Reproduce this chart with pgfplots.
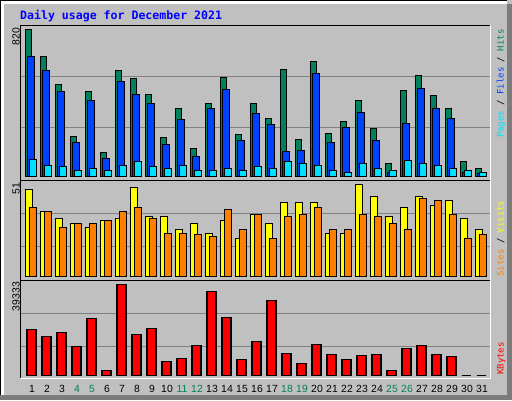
\documentclass[border=0pt]{standalone}
\usepackage{pgfplots}
\pgfplotsset{compat=1.18}
\usepackage{pgfplotstable}
\usepackage{fontspec}
\setmainfont{Liberation Sans}
\newfontfamily\mono{DejaVu Sans Mono}
\definecolor{bg}{HTML}{C0C0C0}
\definecolor{hitc}{HTML}{00805C}
\definecolor{filec}{HTML}{0040FF}
\definecolor{pagec}{HTML}{00E0FF}
\definecolor{sitec}{HTML}{FF8000}
\definecolor{visitc}{HTML}{FFFF00}
\definecolor{kbc}{HTML}{FF0000}
\definecolor{gridc}{HTML}{808080}
\definecolor{shadow}{HTML}{7C7C7C}
\pgfplotstableread{
d h f p v s k
1 820 667 93 48 38 19883
2 667 591 65 36 36 16857
3 512 473 54 32 27 18586
4 222 188 37 29 29 12535
5 473 423 48 27 29 24638
6 132 99 37 31 31 2161
7 591 529 60 32 36 39333
8 546 457 82 49 38 17722
9 457 406 54 33 32 20315
10 216 177 43 33 24 6051
11 378 317 60 26 24 7348
12 155 110 32 29 23 12967
13 406 378 32 24 22 36308
14 552 485 48 31 37 25070
15 233 199 32 21 26 6916
16 406 350 54 34 34 14696
17 322 289 48 29 21 32418
18 596 138 82 41 33 9509
19 205 143 71 41 34 5187
20 641 574 65 41 38 13399
21 239 188 32 24 26 9077
22 306 272 26 24 26 6916
23 423 356 76 51 34 8645
24 266 199 48 44 33 9077
25 71 26 37 33 29 2161
26 479 294 88 38 26 11670
27 563 490 76 44 43 12967
28 451 378 60 39 42 9077
29 378 322 48 42 34 8213
30 82 26 37 32 21 0
31 48 20 26 26 23 0
}\datatable
\pgfplotsset{panel/.style={
  scale only axis, width=469bp, xmin=0.3333, xmax=31.6,
  anchor=south west,
  axis line style={draw=none}, tick style={draw=none},
  major tick length=0pt, scaled y ticks=false,
  xtick=\empty, yticklabels={}, ymajorgrids,
  grid style={gridc, line width=1bp},
}}
\begin{document}
\begin{tikzpicture}[x=1bp,y=1bp]
\fill[bg] (0,0) rectangle (512,400);
% outer bevel
\fill[white] (0,5) rectangle (4,400);
\fill[white] (0,396) rectangle (507,400);
\fill[shadow] (507,0) rectangle (512,396);
\fill[shadow] (0,0) rectangle (512,5);
\fill[black] (0,5) rectangle (1,400);
\fill[black] (0,399) rectangle (507,400);

% top panel
\begin{axis}[panel, at={(21bp,220bp)}, height=155bp, ymin=-18.4, ymax=843.9, ytick={274.8,558.5}]
\addplot[ybar, bar width=6bp, bar shift=-2.2bp, fill=hitc, draw=black, line width=1bp] table[x=d,y=h] {\datatable};
\addplot[ybar, bar width=6.4bp, bar shift=0bp, fill=filec, draw=black, line width=1bp] table[x=d,y=f] {\datatable};
\addplot[ybar, bar width=6.4bp, bar shift=2bp, fill=pagec, draw=black, line width=1bp] table[x=d,y=p] {\datatable};
\end{axis}

% middle panel
\begin{axis}[panel, at={(21bp,120bp)}, height=100bp, ymin=-2.05, ymax=53.38, ytick={16.6,34.9}]
\addplot[ybar, bar width=7bp, bar shift=-1.7bp, fill=visitc, draw=black, line width=1bp] table[x=d,y=v] {\datatable};
\addplot[ybar, bar width=6.4bp, bar shift=2bp, fill=sitec, draw=black, line width=1bp] table[x=d,y=s] {\datatable};
\end{axis}

% bottom panel
\begin{axis}[panel, at={(21bp,22bp)}, height=98bp, ymin=-1167, ymax=41192, ytick={12534,26797},
  xtick={1,...,31},
  xticklabels={1,2,3,\textcolor{hitc}{4},\textcolor{hitc}{5},6,7,8,9,10,\textcolor{hitc}{11},\textcolor{hitc}{12},13,14,15,16,17,\textcolor{hitc}{18},\textcolor{hitc}{19},20,21,22,23,24,\textcolor{hitc}{25},\textcolor{hitc}{26},27,28,29,30,31},
  xticklabel style={font=\fontsize{10.4bp}{12bp}\selectfont, anchor=base, yshift=-14.7bp, xshift=1bp, inner sep=0pt}]
\addplot[ybar, bar width=9bp, bar shift=0.3bp, fill=kbc, draw=black, line width=1.5bp] table[x=d,y=k] {\datatable};
\end{axis}

% plot frame
\draw[black, line width=1bp] (20.5,21) -- (20.5,374.5) -- (491,374.5);
\draw[white, line width=1bp] (20,21.5) -- (490.5,21.5) -- (490.5,375);
\draw[black, line width=1bp] (21,219.5) -- (490,219.5);
\draw[black, line width=1bp] (21,119.5) -- (490,119.5);

% title
\node[anchor=base west, inner sep=0, text=blue, font=\mono\bfseries\fontsize{11.56bp}{13bp}\selectfont] at (20,381) {Daily usage for December 2021};

% left max labels
\node[rotate=90, anchor=base east, inner sep=0, font=\fontsize{10.4bp}{12bp}\selectfont] at (19.5,372) {820};
\node[rotate=90, anchor=base east, inner sep=0, font=\fontsize{10.4bp}{12bp}\selectfont] at (19.5,217.3) {51};
\node[rotate=90, anchor=base east, inner sep=0, font=\fontsize{10.4bp}{12bp}\selectfont] at (19.5,118) {39333};

% right legends
\node[rotate=90, anchor=base east, inner sep=0, font=\mono\fontsize{9bp}{10bp}\selectfont] at (503.5,370.7) {\textcolor{pagec}{Pages} / \textcolor{filec}{Files} / \textcolor{hitc}{Hits}};
\node[rotate=90, anchor=base west, inner sep=0, font=\mono\fontsize{9bp}{10bp}\selectfont] at (503.5,123.3) {\textcolor{sitec}{Sites} / \textcolor{visitc}{Visits}};
\node[rotate=90, anchor=base west, inner sep=0, font=\mono\fontsize{9bp}{10bp}\selectfont] at (503.5,25) {\textcolor{kbc}{KBytes}};

\pgfresetboundingbox
\useasboundingbox (0,0) rectangle (512,400);
\end{tikzpicture}
\end{document}
